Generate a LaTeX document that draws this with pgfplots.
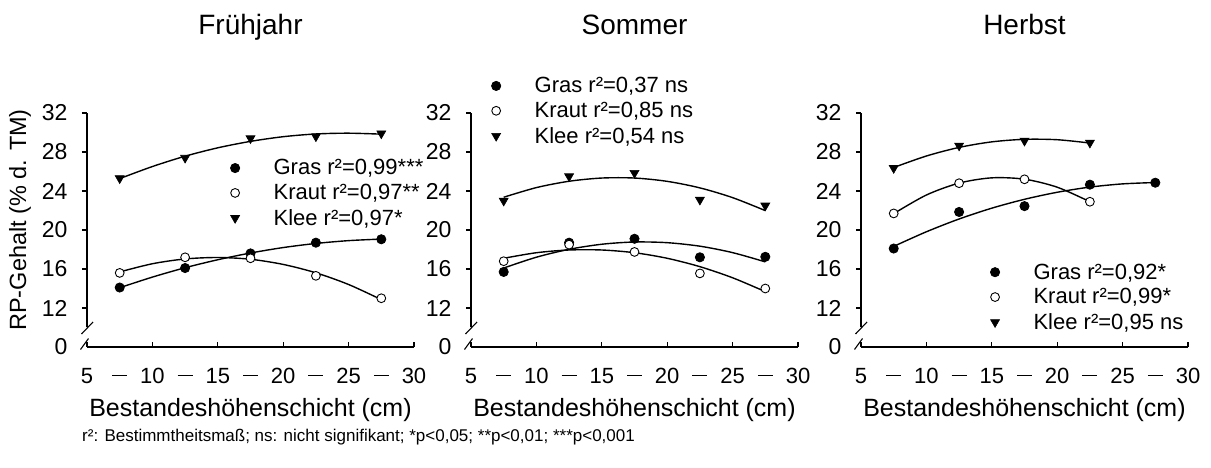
\documentclass[border=0pt]{standalone}
\usepackage{fontspec}
\setmainfont{Liberation Sans}
\usepackage{pgfplots}
\pgfplotsset{compat=1.18}

\newcommand{\fs}[1]{\fontsize{#1}{#1}\selectfont}
\newcommand{\dashlab}{\rule[7pt]{15pt}{1.4pt}}
% axis break: shortened y axis line and two slashes
\newcommand{\breakmarks}{%
  \draw[line width=1.3pt] (axis cs:5,32) -- (axis cs:5,10.1);
  \draw[line width=1.1pt] (axis cs:5,10) ++(-5.5pt,-6.5pt) -- ++(11.5pt,12pt);
  \draw[line width=1.1pt] (axis cs:5,8) ++(-6.5pt,-2.5pt) -- ++(8pt,11pt);
}

\pgfplotsset{
  panel/.style={
    scale only axis, width=327pt, height=234pt,
    xmin=5, xmax=30, ymin=8, ymax=32,
    clip=false,
    axis x line*=bottom, axis y line*=left,
    axis line style={line width=1.3pt},
    y axis line style={draw=none},
    major tick length=5pt,
    every tick/.style={black, line width=1.1pt},
    ytick style={xshift=-5pt},
    xtick={5,10,...,30}, xticklabels={5,10,15,20,25,30},
    extra x ticks={7.5,12.5,...,27.5},
    extra x tick labels={\dashlab,\dashlab,\dashlab,\dashlab,\dashlab},
    extra x tick style={major tick length=0pt},
    ytick={12,16,...,32}, yticklabels={12,16,20,24,28,32},
    extra y ticks={8}, extra y tick labels={0},
    extra y tick style={major tick length=0pt},
    xticklabel style={font=\fs{22}, anchor=base, yshift=-36pt},
    yticklabel style={font=\fs{23}, anchor=east, xshift=-16pt},
    xlabel={Bestandeshöhenschicht (cm)},
    xlabel style={font=\fs{25}, at={(axis description cs:0.5,-0.298)}, anchor=base},
    title style={font=\fs{28}, at={(axis description cs:0.5,1.308)}, anchor=base},
    legend cell align=left,
    legend image code/.code={\draw[##1] plot coordinates {(0pt,0pt)}; \path[draw=none,fill=none] (-6pt,-6pt) rectangle (37pt,6pt);},
    legend style={draw=none, fill=none, inner sep=0pt, font=\fs{22},
      row sep=5pt, nodes={inner sep=1.5pt}, anchor=north west},
  },
  curve/.style={black, line width=1.4pt, smooth, no marks, forget plot},
  gras/.style={only marks, mark=*, mark size=4.6pt, mark options={draw=black, fill=black, line width=0.8pt}},
  kraut/.style={only marks, mark=*, mark size=4.4pt, mark options={draw=black, fill=white, line width=0.9pt}},
  klee/.style={only marks, mark=triangle*, mark size=5.2pt, mark options={rotate=180, draw=black, fill=black, line width=0.6pt}},
}

\begin{document}
\begin{tikzpicture}[x=1pt,y=1pt]
\path[use as bounding box] (0,0) rectangle (1211,467);

% Fruehjahr
\begin{axis}[panel, at={(87pt,120pt)}, anchor=south west,
  title={Frühjahr},
  ylabel={RP-Gehalt (\% d. TM)},
  ylabel style={font=\fs{23.5}, at={(axis description cs:-0.205,0.543)}, anchor=center},
  legend style={at={(0.434,0.808)}}]
\addplot[curve] coordinates {(7.5,25.27) (10,26.51) (12.5,27.57) (15,28.43) (17.5,29.09) (20,29.57) (22.5,29.85) (25,29.93) (27.5,29.83)};
\addplot[curve] coordinates {(7.5,14.08) (10,15.17) (12.5,16.13) (15,16.95) (17.5,17.64) (20,18.20) (22.5,18.62) (25,18.91) (27.5,19.07)};
\addplot[curve] coordinates {(7.5,15.70) (10,16.54) (12.5,17.03) (15,17.18) (17.5,17.00) (20,16.47) (22.5,15.61) (25,14.41) (27.5,12.86)};
\addplot[gras] coordinates {(7.5,14.1) (12.5,16.1) (17.5,17.6) (22.5,18.7) (27.5,19.05)};
\addplot[kraut] coordinates {(7.5,15.6) (12.5,17.2) (17.5,17.1) (22.5,15.3) (27.5,13.0)};
\addplot[klee] coordinates {(7.5,25.3) (12.5,27.4) (17.5,29.4) (22.5,29.6) (27.5,29.9)};
\legend{{Gras r²=0,99***}, {Kraut r²=0,97**}, {Klee r²=0,97*}}
\breakmarks
\end{axis}

% Sommer
\begin{axis}[panel, at={(471pt,120pt)}, anchor=south west,
  title={Sommer},
  legend style={at={(0.058,1.159)}}]
\addplot[curve] coordinates {(7.5,23.36) (10,24.35) (12.5,25.00) (15,25.33) (17.5,25.33) (20,24.99) (22.5,24.32) (25,23.32) (27.5,21.99)};
\addplot[curve] coordinates {(7.5,16.10) (10,17.21) (12.5,18.02) (15,18.54) (17.5,18.77) (20,18.70) (22.5,18.34) (25,17.68) (27.5,16.73)};
\addplot[curve] coordinates {(7.5,17.10) (10,17.67) (12.5,17.95) (15,17.95) (17.5,17.67) (20,17.10) (22.5,16.24) (25,15.10) (27.5,13.68)};
\addplot[gras] coordinates {(7.5,15.7) (12.5,18.7) (17.5,19.1) (22.5,17.2) (27.5,17.25)};
\addplot[kraut] coordinates {(7.5,16.8) (12.5,18.5) (17.5,17.75) (22.5,15.55) (27.5,14.0)};
\addplot[klee] coordinates {(7.5,23.0) (12.5,25.5) (17.5,25.85) (22.5,23.1) (27.5,22.5)};
\legend{{Gras r²=0,37 ns}, {Kraut r²=0,85 ns}, {Klee r²=0,54 ns}}
\breakmarks
\end{axis}

% Herbst
\begin{axis}[panel, at={(861pt,120pt)}, anchor=south west,
  title={Herbst},
  legend style={at={(0.391,0.363)}}]
\addplot[curve] coordinates {(7.5,26.41) (10,27.59) (12.5,28.47) (15,29.04) (17.5,29.30) (20,29.26) (22.5,28.92)};
\addplot[curve] coordinates {(7.5,18.32) (10,19.82) (12.5,21.13) (15,22.24) (17.5,23.15) (20,23.87) (22.5,24.40) (25,24.73) (27.5,24.87)};
\addplot[curve] coordinates {(7.5,21.68) (10,23.59) (12.5,24.81) (15,25.35) (17.5,25.21) (20,24.39) (22.5,22.90)};
\addplot[gras] coordinates {(7.5,18.1) (12.5,21.85) (17.5,22.45) (22.5,24.65) (27.5,24.85)};
\addplot[kraut] coordinates {(7.5,21.7) (12.5,24.8) (17.5,25.2) (22.5,22.9)};
\addplot[klee] coordinates {(7.5,26.35) (12.5,28.65) (17.5,29.15) (22.5,28.95)};
\legend{{Gras r²=0,92*}, {Kraut r²=0,99*}, {Klee r²=0,95 ns}}
\breakmarks
\end{axis}

\node[anchor=west, font=\fs{17}, inner sep=0pt] at (82,30) {r²: Bestimmtheitsmaß; ns: nicht signifikant; *p<0,05; **p<0,01; ***p<0,001};
\end{tikzpicture}
\end{document}
